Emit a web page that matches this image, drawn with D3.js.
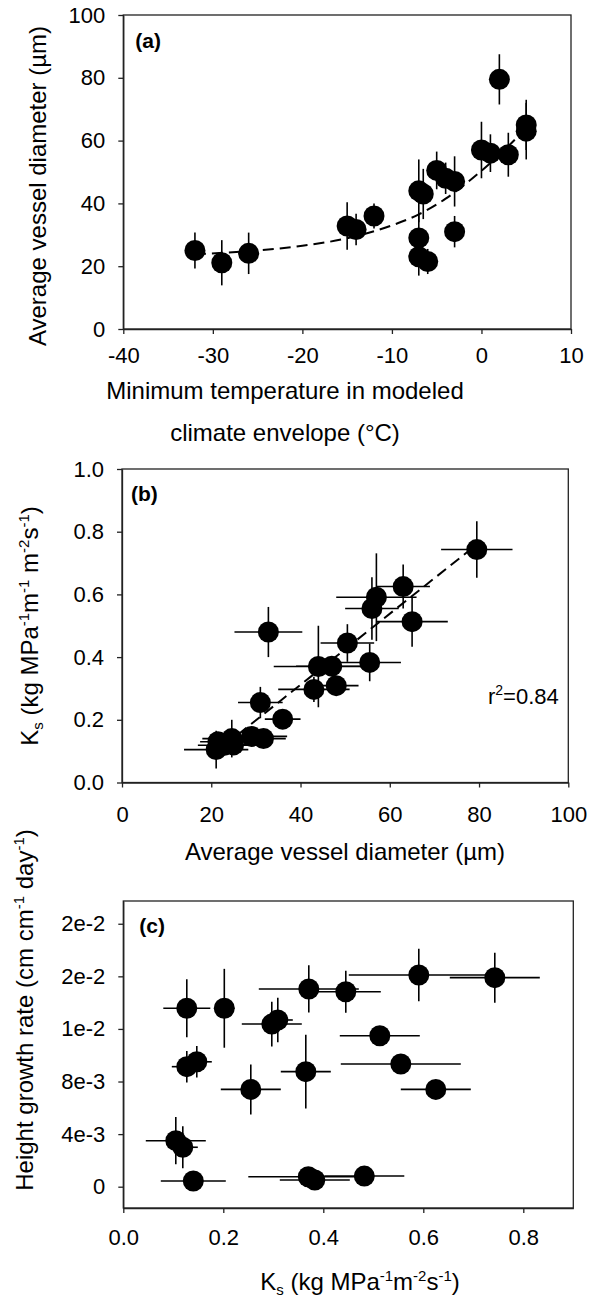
<!DOCTYPE html>
<html>
<head>
<meta charset="utf-8">
<script src="https://cdn.jsdelivr.net/npm/d3@7"></script>
<style>
  body { margin: 0; background: #fff; }
  svg text { font-family: "Liberation Sans", Arial, sans-serif; fill: #000; }
</style>
</head>
<body>
<svg id="chart" width="589" height="1300"></svg>
<script>
// panel (a): min temperature vs vessel diameter
const aTemp = [-32, -29, -26, -15, -14, -12, -7, -6.5, -7, -7, -6, -5, -4, -3, -3, 0, 1, 2, 3, 5, 5]
const aDiam = [25, 21.1, 24.1, 32.8, 31.7, 36, 44, 43, 29, 23, 21.5, 50.5, 48, 47, 31, 57, 56, 79.5, 55.5, 63, 65]
const aDiamErr = [5.7, 7.2, 6.6, 7.6, 5, 4, 10, 8, 8, 6, 4, 6, 5, 8, 5, 9, 6, 8, 7, 9, 8]
// dashed fit curve
const aFitTemp = [-32, -26, -20, -15, -10, -7, -4, -1, 2, 5]
const aFitDiam = [23.8, 24.8, 26.5, 28.9, 33, 36.5, 41.5, 48, 55.5, 64]
const aXTicks = [-40, -30, -20, -10, 0, 10]
const aYTicks = [0, 20, 40, 60, 80, 100]

// panel (b): vessel diameter vs Ks
const bDiam = [21.1, 21.5, 23, 24.6, 25, 29, 31.7, 31, 32.8, 36, 43, 44, 47, 48, 50.5, 55.5, 56, 57, 63, 65, 79.5]
const bKs = [0.105, 0.13, 0.119, 0.14, 0.12, 0.147, 0.14, 0.255, 0.48, 0.202, 0.297, 0.37, 0.371, 0.309, 0.445, 0.383, 0.555, 0.591, 0.625, 0.513, 0.743]
const bDiamErr = [7.2, 4, 6, 6.6, 5.7, 8, 5, 5, 7.6, 4, 8, 10, 8, 5, 6, 7, 6, 9, 6, 8, 8]
const bKsErr = [0.06, 0.03, 0.03, 0.06, 0.03, 0.03, 0.03, 0.05, 0.08, 0.02, 0.04, 0.13, 0.03, 0.03, 0.06, 0.06, 0.1, 0.14, 0.07, 0.08, 0.09]
const bFitDiam = [20, 80]
const bFitKs = [0.085, 0.765]
const bXTicks = [0, 20, 40, 60, 80, 100]
const bYTicks = [0, 0.2, 0.4, 0.6, 0.8, 1.0]

// panel (c): Ks vs height growth rate
const cKs = [0.127, 0.202, 0.297, 0.309, 0.371, 0.445, 0.591, 0.743, 0.513, 0.555, 0.625, 0.127, 0.147, 0.255, 0.365, 0.105, 0.119, 0.14, 0.37, 0.383, 0.482]
const cGrowth = [0.01357, 0.01357, 0.01237, 0.01268, 0.01504, 0.01483, 0.0161, 0.0159, 0.01148, 0.00933, 0.0074, 0.00913, 0.0095, 0.0074, 0.00875, 0.0035, 0.003, 0.00043, 0.00076, 0.00051, 0.00081]
const cKsErr = [0.047, 0.02, 0.06, 0.03, 0.1, 0.07, 0.14, 0.09, 0.08, 0.12, 0.07, 0.03, 0.03, 0.06, 0.05, 0.06, 0.03, 0.065, 0.12, 0.07, 0.08]
const cGrowthErr = [0.0022, 0.003, 0.0017, 0.0017, 0.0018, 0.0016, 0.002, 0.0019, 0.0007, 0.0007, 0.0004, 0.0012, 0.0012, 0.0019, 0.0028, 0.0018, 0.0016, 0.0002, 0.0002, 0.0002, 0.0002]
const cXTicks = [0, 0.2, 0.4, 0.6, 0.8]
const cYTicks = [0, 0.004, 0.008, 0.012, 0.016, 0.02]
const cYLabels = ["0", "4e-3", "8e-3", "1e-2", "2e-2", "2e-2"]

const svg = d3.select("#chart")

// write text made of normal / sup / sub pieces
function rich(text, parts, small) {
  let shift = 0
  parts.forEach(([t, kind]) => {
    const ts = text.append("tspan").text(t)
    let target = kind === "sup" ? -9 : kind === "sub" ? 5 : 0
    if (kind) ts.attr("font-size", small)
    ts.attr("dy", target - shift)
    shift = target
  })
}

function panel(o) {
  const x = d3.scaleLinear().domain(o.xDomain).range([o.left, o.right])
  const y = d3.scaleLinear().domain(o.yDomain).range([o.bottom, o.top])
  const g = svg.append("g")

  g.append("rect")
    .attr("x", o.left).attr("y", o.top)
    .attr("width", o.right - o.left).attr("height", o.bottom - o.top)
    .attr("fill", "none").attr("stroke", "#222").attr("stroke-width", 1.3)

  const xa = g.append("g")
    .attr("transform", `translate(0,${o.bottom})`)
    .call(d3.axisBottom(x).tickValues(o.xTicks).tickSize(5).tickSizeOuter(0).tickFormat(o.xFormat))
  xa.selectAll("text").attr("y", o.xLabelOffset).attr("dy", null).style("font-size", "22px")

  const ya = g.append("g")
    .attr("transform", `translate(${o.left},0)`)
    .call(d3.axisLeft(y).tickValues(o.yTicks).tickSize(5).tickSizeOuter(0).tickPadding(13).tickFormat(o.yFormat))
  ya.selectAll("text").style("font-size", "22px")
  g.selectAll(".domain, .tick line").attr("stroke", "#222").attr("stroke-width", 1.3)

  // fit line
  if (o.fitX) {
    const line = d3.line().x(d => x(d[0])).y(d => y(d[1])).curve(d3.curveMonotoneX)
    g.append("path")
      .datum(d3.zip(o.fitX, o.fitY))
      .attr("d", line)
      .attr("fill", "none").attr("stroke", "#000").attr("stroke-width", 2)
      .attr("stroke-dasharray", "11,6")
  }

  const idx = d3.range(o.xs.length)
  // error bars
  if (o.xErr) {
    g.selectAll(".xerr").data(idx).enter().append("line")
      .attr("x1", i => x(o.xs[i] - o.xErr[i])).attr("x2", i => x(o.xs[i] + o.xErr[i]))
      .attr("y1", i => y(o.ys[i])).attr("y2", i => y(o.ys[i]))
      .attr("stroke", "#000").attr("stroke-width", 1.6)
  }
  g.selectAll(".yerr").data(idx).enter().append("line")
    .attr("x1", i => x(o.xs[i])).attr("x2", i => x(o.xs[i]))
    .attr("y1", i => y(o.ys[i] - o.yErr[i])).attr("y2", i => y(o.ys[i] + o.yErr[i]))
    .attr("stroke", "#000").attr("stroke-width", 1.6)

  g.selectAll(".pt").data(idx).enter().append("circle")
    .attr("cx", i => x(o.xs[i])).attr("cy", i => y(o.ys[i]))
    .attr("r", 10.5).attr("fill", "#000")

  g.append("text").attr("x", o.left + o.tagDx).attr("y", o.top + o.tagDy)
    .style("font-size", "21px").style("font-weight", "bold").text(o.tag)

  return { x, y, g }
}

// (a)
panel({
  left: 123.3, right: 571, top: 15, bottom: 329,
  xDomain: [-40, 10], yDomain: [0, 100],
  xTicks: aXTicks, yTicks: aYTicks,
  xFormat: d => String(d), yFormat: d => String(d),
  xLabelOffset: 34, xs: aTemp, ys: aDiam, yErr: aDiamErr,
  fitX: aFitTemp, fitY: aFitDiam,
  tag: "(a)", tagDx: 12, tagDy: 33
})

// (b)
const pb = panel({
  left: 122, right: 568.3, top: 469, bottom: 782.5,
  xDomain: [0, 100], yDomain: [0, 1],
  xTicks: bXTicks, yTicks: bYTicks,
  xFormat: d => String(d), yFormat: d3.format(".1f"),
  xLabelOffset: 39, xs: bDiam, ys: bKs, xErr: bDiamErr, yErr: bKsErr,
  fitX: bFitDiam, fitY: bFitKs,
  tag: "(b)", tagDx: 9, tagDy: 32
})
rich(pb.g.append("text").attr("x", pb.x(82)).attr("y", pb.y(0.25)).style("font-size", "22px"),
  [["r"], ["2", "sup"], ["=0.84"]], 14)

// (c)
panel({
  left: 123.3, right: 573.3, top: 901, bottom: 1208,
  xDomain: [0, 0.9], yDomain: [-0.00162, 0.02173],
  xTicks: cXTicks, yTicks: cYTicks,
  xFormat: d3.format(".1f"), yFormat: (d, i) => cYLabels[i],
  xLabelOffset: 37, xs: cKs, ys: cGrowth, xErr: cKsErr, yErr: cGrowthErr,
  tag: "(c)", tagDx: 16, tagDy: 32
})

// axis titles
const T = 24, S = 15
svg.append("text").attr("text-anchor", "middle").attr("transform", "translate(46,186) rotate(-90)")
  .style("font-size", T + "px").text("Average vessel diameter (µm)")
svg.append("text").attr("text-anchor", "middle").attr("x", 285).attr("y", 399)
  .style("font-size", T + "px").text("Minimum temperature in modeled")
svg.append("text").attr("text-anchor", "middle").attr("x", 285).attr("y", 441)
  .style("font-size", T + "px").text("climate envelope (°C)")

rich(svg.append("text").attr("text-anchor", "middle").attr("transform", "translate(38,626) rotate(-90)")
  .style("font-size", T + "px"),
  [["K"], ["s", "sub"], [" (kg MPa"], ["-1", "sup"], ["m"], ["-1", "sup"], [" m"], ["-2", "sup"], ["s"], ["-1", "sup"], [")"]], S)
svg.append("text").attr("text-anchor", "middle").attr("x", 345).attr("y", 860)
  .style("font-size", T + "px").text("Average vessel diameter (µm)")

rich(svg.append("text").attr("text-anchor", "middle").attr("transform", "translate(33,1010) rotate(-90)")
  .style("font-size", T + "px"),
  [["Height growth rate (cm cm"], ["-1", "sup"], [" day"], ["-1", "sup"], [")"]], S)
rich(svg.append("text").attr("text-anchor", "middle").attr("x", 360).attr("y", 1290)
  .style("font-size", T + "px"),
  [["K"], ["s", "sub"], [" (kg MPa"], ["-1", "sup"], ["m"], ["-2", "sup"], ["s"], ["-1", "sup"], [")"]], S)
</script>
</body>
</html>
